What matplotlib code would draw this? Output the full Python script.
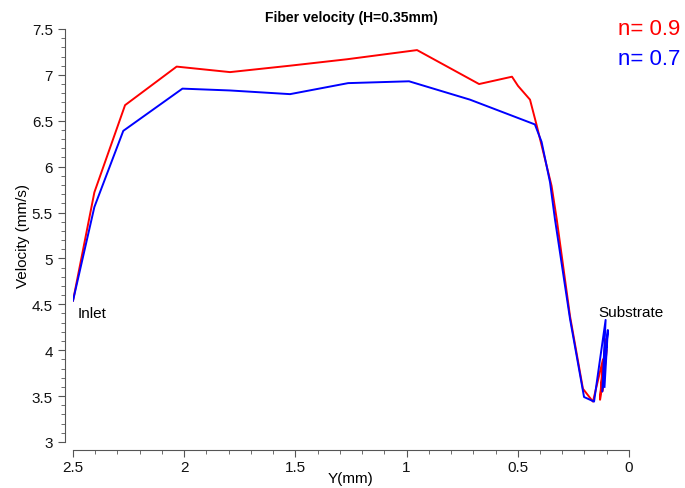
import matplotlib.pyplot as plt
from matplotlib.ticker import MultipleLocator

plt.rcParams['font.family'] = ['Liberation Sans', 'DejaVu Sans']

# n = 0.9
y_red = [2.5, 2.404, 2.266, 2.034, 1.794, 1.524, 1.268, 0.953, 0.674, 0.526, 0.499,
         0.445, 0.415, 0.348, 0.325, 0.265, 0.207, 0.162, 0.117, 0.130, 0.105, 0.120, 0.100]
v_red = [4.54, 5.72, 6.67, 7.09, 7.03, 7.10, 7.17, 7.27, 6.90, 6.98, 6.88,
         6.73, 6.45, 5.79, 5.43, 4.37, 3.58, 3.44, 3.90, 3.46, 4.12, 3.55, 4.00]

# n = 0.7
y_blue = [2.5, 2.404, 2.274, 2.008, 1.794, 1.524, 1.263, 0.989, 0.715, 0.423,
          0.393, 0.355, 0.333, 0.265, 0.202, 0.157, 0.105, 0.120, 0.095, 0.110]
v_blue = [4.54, 5.56, 6.39, 6.85, 6.83, 6.79, 6.91, 6.93, 6.73, 6.46,
          6.27, 5.83, 5.43, 4.34, 3.49, 3.44, 4.33, 3.55, 4.22, 3.60]

fig = plt.figure(figsize=(6.85, 4.89), dpi=100)
ax = fig.add_axes([0.1066, 0.0941, 0.8116, 0.8446])

ax.plot(y_red, v_red, color='#ff0000', lw=1.4)
ax.plot(y_blue, v_blue, color='#0000ff', lw=1.4)

ax.set_xlim(2.5, 0)
ax.set_ylim(3, 7.5)
ax.xaxis.set_minor_locator(MultipleLocator(0.1))
ax.yaxis.set_minor_locator(MultipleLocator(0.1))
ax.set_xticks([2.5, 2, 1.5, 1, 0.5, 0])
ax.set_xticklabels(['2.5', '2', '1.5', '1', '0.5', '0'])
ax.set_yticks([3, 3.5, 4, 4.5, 5, 5.5, 6, 6.5, 7, 7.5])
ax.set_yticklabels(['3', '3.5', '4', '4.5', '5', '5.5', '6', '6.5', '7', '7.5'])

for s in ['top', 'right']:
    ax.spines[s].set_visible(False)
for s in ['left', 'bottom']:
    ax.spines[s].set_position(('outward', 6))
    ax.spines[s].set_color('#555555')
ax.tick_params(which='major', length=5, color='#555555', labelsize=11, labelcolor='#111111')
ax.tick_params(axis='x', which='major', pad=2)
ax.tick_params(which='minor', length=3, color='#555555')

ax.set_xlabel('Y(mm)', fontsize=11, labelpad=-2)
ax.set_ylabel('Velocity (mm/s)', fontsize=11, labelpad=1)
ax.set_title('Fiber velocity (H=0.35mm)', fontsize=10, fontweight='bold', pad=6)

ax.text(2.478, 4.4, 'Inlet', fontsize=11, va='center', ha='left')
ax.text(0.139, 4.42, 'Substrate', fontsize=11, va='center', ha='left')

fig.text(0.993, 0.94, 'n= 0.9', color='#ff0000', fontsize=16, ha='right', va='center')
fig.text(0.993, 0.879, 'n= 0.7', color='#0000ff', fontsize=16, ha='right', va='center')

fig.savefig('out.png', dpi=100)
